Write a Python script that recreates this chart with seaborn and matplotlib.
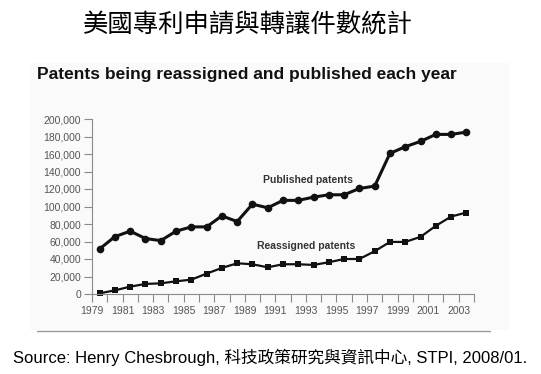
import numpy as np
import pandas as pd
import matplotlib
matplotlib.use("Agg")
import matplotlib.pyplot as plt
from matplotlib.patches import Rectangle
from matplotlib.ticker import FuncFormatter, MultipleLocator, FixedLocator
import seaborn as sns

# Data
years = list(range(1979, 2004))
published = [51500, 65600, 71800, 63400, 61000, 71800, 76700, 76700, 89300, 82800,
             102700, 98500, 107000, 107000, 110700, 113400, 113400, 120600, 123300,
             160700, 168300, 174400, 182400, 182400, 185000]
reassigned = [800, 4200, 8400, 11500, 12200, 14500, 16400, 23300, 29800, 35100,
              34000, 30500, 34000, 34000, 33200, 36300, 40000, 40000, 48900,
              59500, 59500, 65300, 77900, 88500, 93100]
tick_years = list(range(1979, 2004, 2))

main_title = "美國專利申請與轉讓件數統計"
chart_title = "Patents being reassigned and published each year"
source_text = "Source: Henry Chesbrough, 科技政策研究與資訊中心, STPI, 2008/01."

df = pd.DataFrame({"year": years, "Published": published, "Reassigned": reassigned})
df["xpos"] = df["year"] + 0.5  # points sit mid-way between year ticks

sns.set_style("white")
plt.rcParams["font.family"] = ["Liberation Sans", "Noto Sans CJK TC", "DejaVu Sans"]

fig = plt.figure(figsize=(5.41, 3.74), dpi=100)
fig.patch.set_facecolor("white")

# faint panel of the embedded chart image
fig.patches.append(Rectangle((30 / 541, 1 - 330 / 374), 479 / 541, 267 / 374,
                             transform=fig.transFigure, facecolor="#fafafa",
                             edgecolor="none", zorder=-5))
fig.add_artist(plt.Line2D([37 / 541, 490 / 541], [1 - 331 / 374] * 2,
                          transform=fig.transFigure, color="#9a9a9a", lw=1,
                          zorder=-4))

ax = fig.add_axes([92 / 541, 80 / 374, 382 / 541, 175 / 374])
ax.set_facecolor("none")
ax.set_zorder(2)

sns.lineplot(data=df, x="xpos", y="Published", ax=ax, color="#111111", lw=2.2,
             marker="o", markersize=5.5, markeredgewidth=0, clip_on=False)
sns.lineplot(data=df, x="xpos", y="Reassigned", ax=ax, color="#111111", lw=1.6,
             marker="s", markersize=4.5, markeredgewidth=0, clip_on=False)

ax.set_xlim(1979, 2004)
ax.set_ylim(0, 200000)
ax.xaxis.set_major_locator(FixedLocator(tick_years))
ax.xaxis.set_minor_locator(MultipleLocator(1))
ax.yaxis.set_major_locator(MultipleLocator(20000))
ax.yaxis.set_major_formatter(FuncFormatter(lambda v, p: f"{int(v):,}"))
ax.xaxis.set_major_formatter(FuncFormatter(lambda v, p: f"{int(v)}"))
ax.set_xlabel("")
ax.set_ylabel("")

for s in ["top", "right"]:
    ax.spines[s].set_visible(False)
for s in ["left", "bottom"]:
    ax.spines[s].set_color("#8a8a8a")
    ax.spines[s].set_linewidth(0.8)

ax.tick_params(axis="both", which="both", direction="out", length=6, width=0.8,
               color="#8a8a8a", labelcolor="#555555", labelsize=7.5,
               bottom=True, left=True)
ax.tick_params(axis="x", which="major", pad=3)
ax.tick_params(axis="y", pad=2)

ax.text(1993.1, 130300, "Published patents", fontsize=7.5, fontweight="bold",
        color="#333333", ha="center", va="center")
ax.text(1993.0, 54900, "Reassigned patents", fontsize=7.5, fontweight="bold",
        color="#333333", ha="center", va="center")

fig.text(37 / 541, 1 - 75 / 374, chart_title, fontsize=12.5, fontweight="bold",
         color="#111111", ha="left", va="center")
fig.text(248 / 541, 1 - 25 / 374, main_title, fontsize=18.3, color="black",
         ha="center", va="center", family=["Noto Sans CJK TC"], fontweight="light")
fig.text(270 / 541, 1 - 357 / 374, source_text, fontsize=12, color="black",
         ha="center", va="center")

fig.savefig("out.png", dpi=100)
